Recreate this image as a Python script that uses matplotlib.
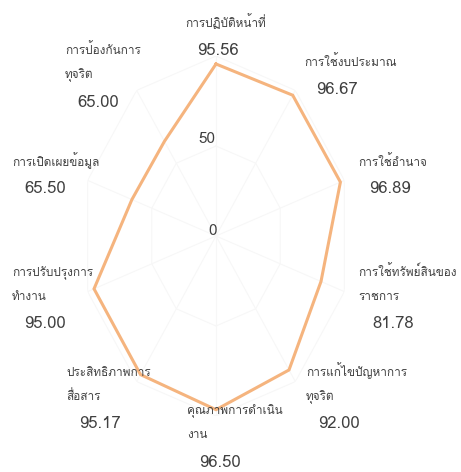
import numpy as np
import matplotlib
matplotlib.use("Agg")
import matplotlib.pyplot as plt
from matplotlib import font_manager
from fontTools.ttLib import TTFont

categories = [
    "การปฏิบัติหน้าที่",
    "การใช้งบประมาณ",
    "การใช้อำนาจ",
    "การใช้ทรัพย์สินของ\nราชการ",
    "การแก้ไขปัญหาการ\nทุจริต",
    "คุณภาพการดำเนิน\nงาน",
    "ประสิทธิภาพการ\nสื่อสาร",
    "การปรับปรุงการ\nทำงาน",
    "การเปิดเผยข้อมูล",
    "การป้องกันการ\nทุจริต",
]
values = [95.56, 96.67, 96.89, 81.78, 92.00, 96.50, 95.17, 95.00, 65.50, 65.00]
value_labels = ["95.56", "96.67", "96.89", "81.78", "92.00", "96.50", "95.17", "95.00", "65.50", "65.00"]
r_ticks = [0, 50]

# find a font with Thai coverage
thai_fams = []
for f in font_manager.fontManager.ttflist:
    try:
        tt = TTFont(f.fname, fontNumber=0, lazy=True)
        cmap = tt.getBestCmap()
        if cmap and 0x0E01 in cmap and 0x0E33 in cmap:
            if f.name not in thai_fams:
                thai_fams.append(f.name)
    except Exception:
        pass
families = thai_fams + ["DejaVu Sans"]
plt.rcParams["font.family"] = families

W, H = 461, 472
fig = plt.figure(figsize=(W / 100, H / 100), dpi=100)
fig.patch.set_facecolor("white")

cx, cy, rx, ry = 216, 236, 135, 180
ax = fig.add_axes([(cx - rx) / W, 1 - (cy + ry) / H, 2 * rx / W, 2 * ry / H], projection="polar")
ax.set_aspect("auto")
ax.set_theta_zero_location("N")
ax.set_theta_direction(-1)
ax.set_ylim(0, 100)
ax.grid(False)
ax.set_xticks([])
ax.set_yticks([])
ax.spines["polar"].set_visible(False)
ax.patch.set_alpha(0)

n = len(values)
angles = np.linspace(0, 2 * np.pi, n, endpoint=False)
closed_a = np.append(angles, angles[0])

grid_col = "#f7f7f7"
for rv in [50, 100]:
    ax.plot(closed_a, [rv] * (n + 1), color=grid_col, lw=0.8, zorder=1)
for a in angles:
    ax.plot([a, a], [0, 100], color=grid_col, lw=0.8, zorder=1)

ax.plot(closed_a, np.append(values, values[0]), color="#F5B47E", lw=2.2, zorder=3, solid_joinstyle="miter")

text_col = "#404040"


def px(x, y):
    return x / W, 1 - y / H


# radial tick labels (pixel centre x, baseline y)
tick_pos = [(213, 235), (207, 143)]
for rv, (tx, ty) in zip(r_ticks, tick_pos):
    fig.text(*px(tx, ty), str(rv), ha="center", va="baseline", fontsize=11, color=text_col)

# category label blocks: left x, first-line baseline y
label_pos = [
    (185, 27), (304, 66), (358, 166), (358, 276), (306, 376),
    (187, 414), (66, 376), (12, 276), (12, 166), (65, 54),
]
# value labels: centre x, baseline y
value_pos = [
    (218, 55), (337, 94), (390, 193), (393, 328), (339, 428),
    (220, 467), (100, 428), (45, 328), (45, 193), (98, 107),
]
line_step = 24
for cat, (lx, ly), vl, (vx, vy) in zip(categories, label_pos, value_labels, value_pos):
    for i, line in enumerate(cat.split("\n")):
        fig.text(*px(lx, ly + i * line_step), line, ha="left", va="baseline",
                 fontsize=8.5, color=text_col)
    fig.text(*px(vx, vy), vl, ha="center", va="baseline", fontsize=12, color=text_col)

fig.savefig("out.png", dpi=100, facecolor="white")
